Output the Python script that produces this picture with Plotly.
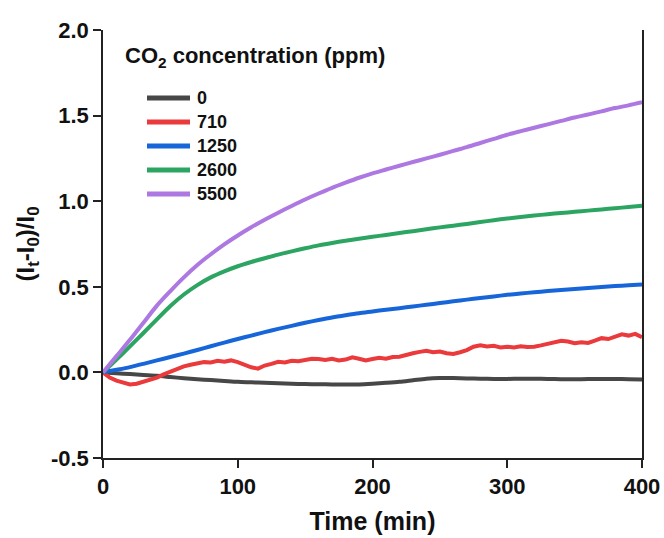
import plotly.graph_objects as go

# Time axis (minutes)
time_10 = list(range(0, 401, 10))
time_5 = list(range(0, 401, 5))

series_names = ["0", "710", "1250", "2600", "5500"]
series_colors = ["#474747", "#ea3a3c", "#1766d9", "#2da562", "#ad78e2"]

# Relative current change (It - I0)/I0 for each CO2 concentration
resp_0 = [0.000, -0.005, -0.010, -0.015, -0.020, -0.027, -0.034, -0.040, -0.045, -0.050,
          -0.055, -0.058, -0.061, -0.064, -0.066, -0.068, -0.069, -0.070, -0.071, -0.070,
          -0.066, -0.061, -0.055, -0.046, -0.037, -0.033, -0.033, -0.035, -0.037, -0.038,
          -0.038, -0.037, -0.037, -0.038, -0.040, -0.040, -0.039, -0.038, -0.038, -0.040,
          -0.041]

resp_710 = [0.000, -0.030, -0.048, -0.062, -0.070, -0.066, -0.055, -0.045, -0.030, -0.012,
            0.005, 0.020, 0.035, 0.045, 0.052, 0.060, 0.058, 0.068, 0.062, 0.070,
            0.060, 0.045, 0.030, 0.022, 0.040, 0.050, 0.062, 0.058, 0.068, 0.065,
            0.072, 0.080, 0.078, 0.072, 0.080, 0.070, 0.075, 0.088, 0.080, 0.070,
            0.078, 0.085, 0.080, 0.090, 0.092, 0.105, 0.112, 0.120, 0.126, 0.118,
            0.122, 0.112, 0.108, 0.118, 0.130, 0.150, 0.158, 0.152, 0.155, 0.146,
            0.150, 0.145, 0.152, 0.148, 0.150, 0.158, 0.168, 0.175, 0.185, 0.180,
            0.170, 0.176, 0.172, 0.185, 0.200, 0.195, 0.210, 0.222, 0.215, 0.225,
            0.205]

resp_1250 = [0.000, 0.015, 0.031, 0.050, 0.070, 0.090, 0.110, 0.131, 0.153, 0.174,
             0.195, 0.215, 0.235, 0.254, 0.272, 0.290, 0.306, 0.321, 0.334, 0.346,
             0.356, 0.366, 0.375, 0.385, 0.395, 0.405, 0.415, 0.425, 0.435, 0.444,
             0.453, 0.461, 0.468, 0.475, 0.481, 0.487, 0.493, 0.499, 0.504, 0.509,
             0.514]

resp_2600 = [0.000, 0.075, 0.152, 0.230, 0.310, 0.388, 0.455, 0.510, 0.555, 0.590,
             0.620, 0.645, 0.667, 0.688, 0.707, 0.725, 0.742, 0.756, 0.769, 0.781,
             0.792, 0.803, 0.814, 0.825, 0.836, 0.847, 0.857, 0.867, 0.878, 0.889,
             0.899, 0.908, 0.916, 0.924, 0.931, 0.938, 0.945, 0.952, 0.959, 0.966,
             0.973]

resp_5500 = [0.000, 0.095, 0.190, 0.290, 0.390, 0.475, 0.555, 0.627, 0.690, 0.748,
             0.800, 0.848, 0.892, 0.933, 0.972, 1.010, 1.045, 1.078, 1.108, 1.137,
             1.163, 1.185, 1.207, 1.229, 1.250, 1.271, 1.294, 1.316, 1.340, 1.364,
             1.388, 1.409, 1.429, 1.449, 1.469, 1.489, 1.506, 1.525, 1.544, 1.560,
             1.578]

series_times = [time_10, time_5, time_10, time_10, time_10]
series_values = [resp_0, resp_710, resp_1250, resp_2600, resp_5500]
series_smooth = [True, False, True, True, True]

x_ticks = [0, 100, 200, 300, 400]
y_ticks = [-0.5, 0.0, 0.5, 1.0, 1.5, 2.0]
y_tick_text = ["-0.5", "0.0", "0.5", "1.0", "1.5", "2.0"]

W, H = 664, 538
M_L, M_R, M_T, M_B = 103, 22, 30, 80
FONT = "Arial, Liberation Sans, sans-serif"

fig = go.Figure()
for name, color, t, v, smooth in zip(series_names, series_colors, series_times,
                                     series_values, series_smooth):
    line = dict(color=color, width=4)
    if smooth:
        line.update(shape="spline", smoothing=0.8)
    fig.add_trace(go.Scatter(x=t, y=v, mode="lines", name=name, line=line,
                             showlegend=False))


def px_to_paper(px, py):
    return ((px - M_L) / (W - M_L - M_R), 1 - (py - M_T) / (H - M_T - M_B))


# Legend block drawn with shapes and text
tx, ty = px_to_paper(123, 57)
fig.add_annotation(x=tx, y=ty, xref="paper", yref="paper", xanchor="left", yanchor="middle",
                   text="<b>CO<sub>2</sub> concentration (ppm)</b>", showarrow=False,
                   font=dict(family=FONT, size=22, color="#111"))
row_y = [98, 122, 146, 170, 194]
for name, color, py in zip(series_names, series_colors, row_y):
    x0, y0 = px_to_paper(147, py)
    x1, _ = px_to_paper(190, py)
    fig.add_shape(type="line", xref="paper", yref="paper", x0=x0, x1=x1, y0=y0, y1=y0,
                  line=dict(color=color, width=5))
    lx, _ = px_to_paper(195, py)
    fig.add_annotation(x=lx, y=y0, xref="paper", yref="paper", xanchor="left", yanchor="middle",
                       text=f"<b>{name}</b>", showarrow=False,
                       font=dict(family=FONT, size=18, color="#111"))

fig.update_layout(
    width=W, height=H,
    margin=dict(l=M_L, r=M_R, t=M_T, b=M_B),
    paper_bgcolor="white", plot_bgcolor="white",
    font=dict(family=FONT, color="#111"),
    xaxis=dict(range=[0, 400], tickvals=x_ticks, ticks="outside", ticklen=8, tickwidth=1.5,
               tickcolor="#222", showline=True, linecolor="#222", linewidth=1.5,
               showgrid=False, zeroline=False, automargin=False,
               tickfont=dict(family=FONT, size=22, weight="bold"),
               title=dict(text="<b>Time (min)</b>", font=dict(family=FONT, size=25), standoff=14)),
    yaxis=dict(range=[-0.5, 2.0], tickvals=y_ticks, ticktext=y_tick_text, ticks="outside",
               ticklen=8, tickwidth=1.5, tickcolor="#222", showline=True, linecolor="#222",
               linewidth=1.5, mirror=True, showgrid=False, zeroline=False, automargin=False,
               tickfont=dict(family=FONT, size=22, weight="bold"),
               title=dict(text="<b>(I<sub>t</sub>-I<sub>0</sub>)/I<sub>0</sub></b>",
                          font=dict(family=FONT, size=24), standoff=10)),
)

fig.write_html("out.html")
